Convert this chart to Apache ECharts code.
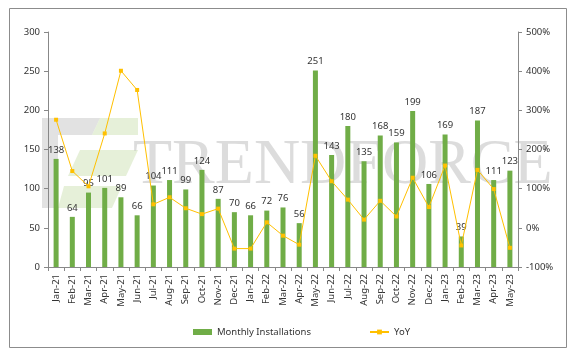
<!DOCTYPE html>
<html lang="en">
<head>
<meta charset="UTF-8">
<title>Monthly Installations</title>
<script src="https://cdn.jsdelivr.net/npm/echarts@6/dist/echarts.min.js"></script>
<style>
    * { padding: 0; margin: 0; }
    body { background: #fff; }
</style>
</head>
<body>
<div id="chart" style="width:572px;height:352px;"></div>
<script>
    var months = ['Jan-21','Feb-21','Mar-21','Apr-21','May-21','Jun-21','Jul-21','Aug-21','Sep-21','Oct-21','Nov-21','Dec-21',
        'Jan-22','Feb-22','Mar-22','Apr-22','May-22','Jun-22','Jul-22','Aug-22','Sep-22','Oct-22','Nov-22','Dec-22',
        'Jan-23','Feb-23','Mar-23','Apr-23','May-23'];
    var installs = [138,64,95,101,89,66,104,111,99,124,87,70,66,72,76,56,251,143,180,135,168,159,199,106,169,39,187,111,123];
    // YoY in %
    var yoy = [276,145,106,241,401,352,60,78,50,35,49,-53,-53,14,-20,-43,184,119,72,21,69,29,128,53,159,-45,148,99,-51];
    var leftTicks = [0, 300, 50];
    var rightTicks = [-100, 500, 100];

    var chart = echarts.init(document.getElementById('chart'));
    var font = 'Noto Sans';
    var fs = 9.5;
    var option = {
        animation: false,
        textStyle: {fontFamily: font},
        graphic: [
            {type: 'rect', silent: true, z: -10, shape: {x: 9.5, y: 8.5, width: 557, height: 339},
                style: {fill: '#fff', stroke: '#8c8c8c', lineWidth: 1}},
            {type: 'polygon', silent: true, z: -5,
                shape: {points: [[42,118],[100,118],[92,135],[58,135],[58,208],[42,208]]},
                style: {fill: 'rgba(190,190,190,0.45)'}},
            {type: 'polygon', silent: true, z: -5,
                shape: {points: [[100,118],[138,118],[138,135],[92,135]]},
                style: {fill: 'rgba(200,222,170,0.45)'}},
            {type: 'polygon', silent: true, z: -5,
                shape: {points: [[80,150],[138,150],[126,176],[68,176]]},
                style: {fill: 'rgba(200,222,170,0.45)'}},
            {type: 'polygon', silent: true, z: -5,
                shape: {points: [[64,186],[122,186],[112,208],[58,208]]},
                style: {fill: 'rgba(200,222,170,0.45)'}},
            {type: 'text', silent: true, z: -5, left: 133, top: 134,
                style: {text: 'TRENDFORCE', font: '64px "Liberation Serif"', fill: 'rgba(185,185,185,0.5)'}}
        ],
        legend: {
            top: 322,
            left: 188,
            itemGap: 58,
            itemWidth: 19,
            itemHeight: 6,
            textStyle: {fontSize: fs, color: '#333', fontFamily: font},
            data: [
                {name: 'Monthly Installations', icon: 'rect'},
                {name: 'YoY'}
            ]
        },
        grid: {left: 48, right: 54, top: 32, bottom: 85},
        xAxis: {
            type: 'category',
            data: months,
            axisLine: {lineStyle: {color: '#888'}},
            axisTick: {show: true, length: 4, lineStyle: {color: '#888'}},
            axisLabel: {rotate: 90, fontSize: fs, color: '#333', margin: 7, interval: 0}
        },
        yAxis: [
            {
                type: 'value', min: leftTicks[0], max: leftTicks[1], interval: leftTicks[2],
                axisLine: {show: true, lineStyle: {color: '#888'}},
                axisTick: {show: true, length: 4, lineStyle: {color: '#888'}},
                splitLine: {show: false},
                axisLabel: {fontSize: fs, color: '#333', margin: 8}
            },
            {
                type: 'value', min: rightTicks[0], max: rightTicks[1], interval: rightTicks[2],
                axisLine: {show: true, lineStyle: {color: '#888'}},
                axisTick: {show: true, length: 4, lineStyle: {color: '#888'}},
                splitLine: {show: false},
                axisLabel: {fontSize: fs, color: '#333', margin: 8, formatter: '{value}%'}
            }
        ],
        series: [
            {
                name: 'Monthly Installations',
                type: 'bar',
                barWidth: 5,
                itemStyle: {color: '#70ad47'},
                label: {show: true, position: 'top', fontSize: fs, color: '#333', distance: 4},
                data: installs
            },
            {
                name: 'YoY',
                type: 'line',
                yAxisIndex: 1,
                symbol: 'rect',
                symbolSize: 4,
                lineStyle: {color: '#ffc000', width: 1},
                itemStyle: {color: '#ffc000'},
                data: yoy
            }
        ]
    };
    chart.setOption(option);
</script>
</body>
</html>
